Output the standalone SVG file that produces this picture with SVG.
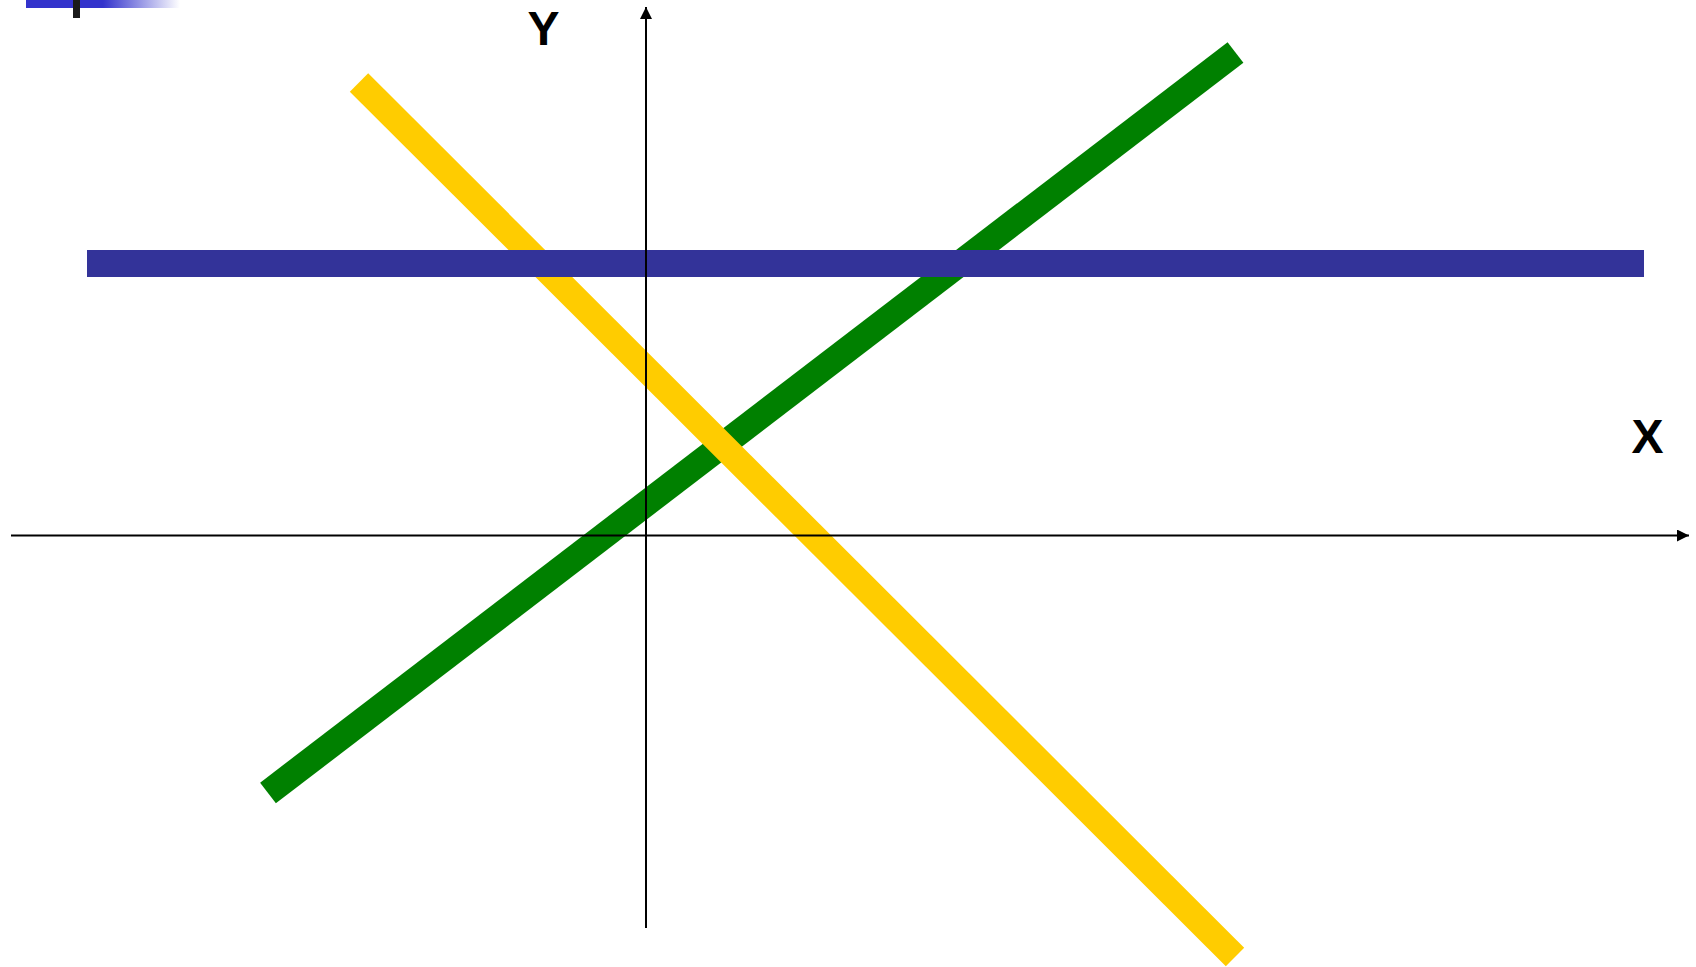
<svg xmlns="http://www.w3.org/2000/svg" width="1696" height="967" viewBox="0 0 1696 967">
<style>
.axis{stroke:#000;stroke-width:2;fill:none}
.lbl{font-family:"Liberation Sans",Arial,sans-serif;font-weight:bold;font-size:48px;fill:#000}
</style>
<defs>
<linearGradient id="fade" x1="26" y1="0" x2="180" y2="0" gradientUnits="userSpaceOnUse">
<stop offset="0" stop-color="#3333CC"/>
<stop offset="0.5" stop-color="#3333CC"/>
<stop offset="1" stop-color="#3333CC" stop-opacity="0"/>
</linearGradient>
<marker id="arr" viewBox="0 0 10 10" refX="10" refY="5" markerWidth="6" markerHeight="6" orient="auto" markerUnits="strokeWidth">
<path d="M0,0 L10,5 L0,10 Z" fill="#000"/>
</marker>
</defs>
<rect width="1696" height="967" fill="#fff"/>
<g id="corner">
<rect x="26" y="0" width="154" height="8" fill="url(#fade)"/>
<rect x="73" y="0" width="7" height="18" fill="#1a1a1a"/>
</g>
<g id="lines">
<line id="green" x1="268" y1="793" x2="1235.5" y2="52.5" stroke="#008000" stroke-width="26"/>
<line id="yellow" x1="359" y1="82.5" x2="1235" y2="957" stroke="#FFCC00" stroke-width="26"/>
<rect id="blue" x="87" y="250" width="1557" height="27" fill="#333399"/>
</g>
<g id="axes">
<line class="axis" x1="11" y1="535.5" x2="1689" y2="535.5" marker-end="url(#arr)"/>
<line class="axis" x1="646" y1="928" x2="646" y2="7" marker-end="url(#arr)"/>
</g>
<text class="lbl" x="543.5" y="45" text-anchor="middle">Y</text>
<text class="lbl" x="1647.5" y="453" text-anchor="middle">X</text>
</svg>
